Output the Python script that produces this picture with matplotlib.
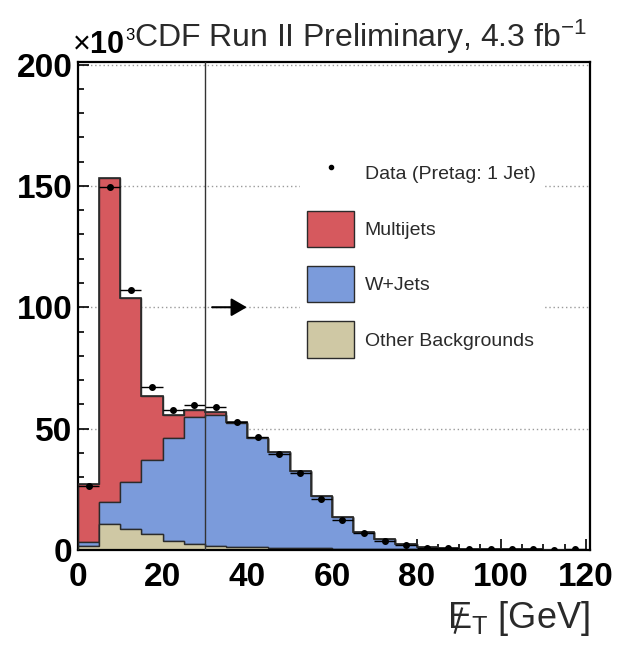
import matplotlib

matplotlib.use("Agg")
import matplotlib.pyplot as plt
import numpy as np
from matplotlib.lines import Line2D
from matplotlib.patches import Patch

plt.rcParams["font.family"] = ["Liberation Sans", "DejaVu Sans"]
plt.rcParams["mathtext.fontset"] = "custom"
plt.rcParams["mathtext.rm"] = "Liberation Sans"
plt.rcParams["mathtext.it"] = "Liberation Sans:italic"
plt.rcParams["mathtext.bf"] = "Liberation Sans:bold"

# missing E_T bins, 5 GeV wide, counts in units of 10^3
bin_edges = np.arange(0, 125, 5)

other_bkg = [1.5, 10.5, 8.6, 6.6, 3.6, 2.4, 1.8, 1.4, 1.2, 1.0, 0.8, 0.6,
             0.5, 0.4, 0.3, 0.2, 0.15, 0.1, 0.1, 0.08, 0.06, 0.05, 0.04, 0.03]
wjets = [1.7, 9.3, 19.4, 30.6, 42.7, 52.3, 53.6, 50.8, 44.9, 39.4, 31.8, 21.6,
         12.9, 7.1, 4.1, 2.3, 1.15, 0.7, 0.4, 0.27, 0.19, 0.15, 0.11, 0.09]
multijets = [23.9, 133.6, 76.0, 26.4, 9.1, 2.8, 1.4, 0.5, 0.0, 0.0, 0.0, 0.0,
             0.0, 0.0, 0.0, 0.0, 0.0, 0.0, 0.0, 0.0, 0.0, 0.0, 0.0, 0.0]
data_pretag = [26.3, 149.6, 107.0, 67.3, 57.5, 59.8, 58.9, 52.7, 46.5, 39.7, 31.5, 20.8,
               12.3, 6.8, 3.8, 2.0, 1.0, 0.6, 0.4, 0.3, 0.25, 0.2, 0.15, 0.3]

met_cut = 30.0
arrow_from, arrow_to, arrow_y = 31.7, 39.9, 100.0

fig = plt.figure(figsize=(6.22, 6.47), dpi=100)
ax = fig.add_axes([0.1254, 0.150, 0.8232, 0.754])

other_top = np.array(other_bkg)
wjets_top = other_top + np.array(wjets)
total_top = wjets_top + np.array(multijets)

edge = "#2b2b2b"
red, blue, tan = "#d6595e", "#7b9bdb", "#cfc8a4"
ax.stairs(total_top, bin_edges, baseline=wjets_top, fill=True, facecolor=red,
          edgecolor=edge, linewidth=1.0, zorder=2)
ax.stairs(wjets_top, bin_edges, baseline=other_top, fill=True, facecolor=blue,
          edgecolor=edge, linewidth=1.0, zorder=2)
ax.stairs(other_top, bin_edges, baseline=0, fill=True, facecolor=tan,
          edgecolor=edge, linewidth=1.0, zorder=2)
ax.stairs(total_top, bin_edges, color=edge, linewidth=1.2, zorder=3)

centers = 0.5 * (bin_edges[:-1] + bin_edges[1:])
data = np.array(data_pretag)
ax.errorbar(centers, data, xerr=2.5, yerr=np.sqrt(data * 1000) / 1000, fmt="o",
            color="black", markersize=4, elinewidth=1.0, capsize=0, zorder=4)

ax.axvline(met_cut, color="#333333", linewidth=1.0, zorder=5)
ax.annotate("", xy=(arrow_to, arrow_y), xytext=(arrow_from, arrow_y),
            arrowprops=dict(arrowstyle="-|>,head_length=0.95,head_width=0.55",
                            color="black", linewidth=1.5, shrinkA=0, shrinkB=0), zorder=6)

ax.set_xlim(0, 121)
ax.set_ylim(0, 201)
ax.set_xticks(np.arange(0, 121, 20))
ax.set_xticks(np.arange(0, 121, 5), minor=True)
ax.set_yticks(np.arange(0, 201, 50))
ax.set_yticks(np.arange(0, 201, 10), minor=True)
ax.tick_params(which="both", direction="in", top=False, right=False, width=1.2)
ax.tick_params(which="major", length=8)
ax.tick_params(which="minor", length=4)
ax.tick_params(axis="x", which="major", pad=9)
ax.tick_params(axis="y", which="major", pad=4)
for label in ax.get_xticklabels() + ax.get_yticklabels():
    label.set_fontsize(24)
    label.set_fontweight("bold")
for spine in ax.spines.values():
    spine.set_linewidth(1.6)

ax.yaxis.grid(True, linestyle=(0, (1, 2)), color="#9a9a9a", linewidth=1.0, zorder=0)
ax.set_axisbelow(True)

ax.text(-0.012, 1.005, r"$\times$10", transform=ax.transAxes, fontsize=22,
        fontweight="bold", ha="left", va="bottom")
ax.text(0.093, 1.040, "3", transform=ax.transAxes, fontsize=12, ha="left", va="bottom")
fig.text(0.216, 0.928, r"CDF Run II Preliminary, 4.3 fb$^{\mathrm{-1}}$", fontsize=23,
         color="#2a2a2a", ha="left", va="baseline")

xlab = fig.text(0.948, 0.030, r"E$_{\mathrm{T}}$ [GeV]", fontsize=26,
                ha="right", va="baseline", color="#2a2a2a")

handles = [
    Line2D([], [], marker="o", markersize=3, linestyle="none", color="black"),
    Patch(facecolor=red, edgecolor=edge, linewidth=1.0),
    Patch(facecolor=blue, edgecolor=edge, linewidth=1.0),
    Patch(facecolor=tan, edgecolor=edge, linewidth=1.0),
]
labels = ["Data (Pretag: 1 Jet)", "Multijets", "W+Jets", "Other Backgrounds"]
leg = ax.legend(handles, labels, loc="upper left", bbox_to_anchor=(0.414, 0.845),
                fontsize=14, frameon=True, facecolor="white", edgecolor="none",
                framealpha=1.0, fancybox=False, handlelength=2.4, handleheight=2.5,
                labelspacing=0.98, handletextpad=0.55, borderpad=0.4)
leg.set_zorder(7)
for text in leg.get_texts():
    text.set_color("#2a2a2a")

# slash through the E of the missing-E_T label
fig.canvas.draw()
bb = xlab.get_window_extent()
fw, fh = fig.bbox.width, fig.bbox.height
base = 0.030 * fh
fig.add_artist(Line2D([(bb.x0 + 8) / fw, (bb.x0 + 15) / fw],
                      [(base - 5) / fh, (base + 19) / fh],
                      color="#2a2a2a", linewidth=1.6))

fig.savefig("out.png", dpi=100)
